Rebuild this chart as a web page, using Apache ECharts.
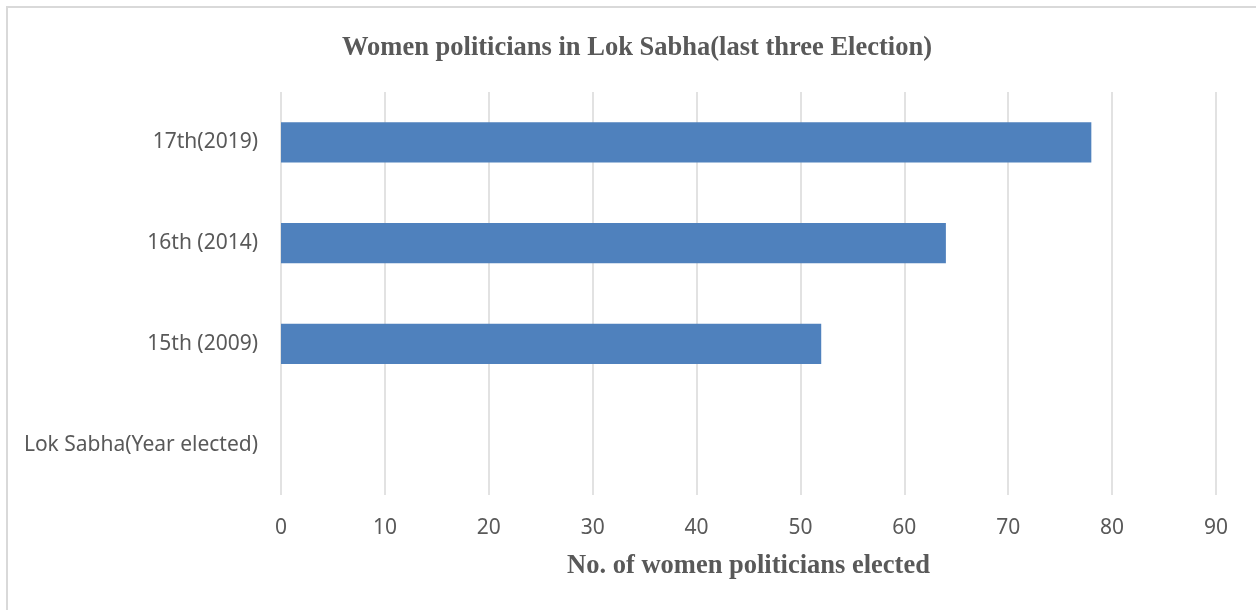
<!DOCTYPE html>
<html>
<head>
<meta charset="utf-8">
<script src="https://cdn.jsdelivr.net/npm/echarts@6/dist/echarts.min.js"></script>
<style>
  html, body { margin: 0; padding: 0; background: #fff; }
  #main { width: 1256px; height: 610px; }
</style>
</head>
<body>
<div id="main"></div>
<script>
const categories = ["Lok Sabha(Year elected)", "15th (2009)", "16th (2014)", "17th(2019)"];
const womenElected = [null, 52, 64, 78];
const xTicks = { min: 0, max: 90, interval: 10 };

const chart = echarts.init(document.getElementById("main"));

const option = {
  animation: false,
  backgroundColor: "#fff",
  title: {
    text: "Women politicians in Lok Sabha(last three Election)",
    left: 632,
    top: 30,
    textAlign: "center",
    textStyle: {
      fontFamily: "Liberation Serif",
      fontWeight: "bold",
      fontSize: 26.5,
      color: "#595959",
    },
  },
  graphic: [
    {
      type: "rect",
      shape: { x: 7, y: 7, width: 1300, height: 700 },
      style: { fill: "none", stroke: "#d9d9d9", lineWidth: 2 },
      silent: true,
    },
  ],
  grid: {
    left: 281,
    right: 40,
    top: 92,
    bottom: 115,
  },
  xAxis: {
    type: "value",
    min: xTicks.min,
    max: xTicks.max,
    interval: xTicks.interval,
    name: "No. of women politicians elected",
    nameLocation: "middle",
    nameGap: 58,
    nameTextStyle: {
      fontFamily: "Liberation Serif",
      fontWeight: "bold",
      fontSize: 26.5,
      color: "#595959",
    },
    axisLine: { show: false },
    axisTick: { show: false },
    axisLabel: {
      margin: 23,
      fontFamily: "Noto Sans",
      fontSize: 21,
      color: "#595959",
    },
    splitLine: { lineStyle: { color: "#d9d9d9", width: 1.5 } },
  },
  yAxis: {
    type: "category",
    data: categories,
    axisLine: { show: false },
    axisTick: { show: false },
    axisLabel: {
      margin: 23,
      fontFamily: "Noto Sans",
      fontSize: 21,
      color: "#595959",
    },
  },
  series: [
    {
      type: "bar",
      data: womenElected,
      barWidth: "40%",
      itemStyle: { color: "#4f81bd" },
    },
  ],
};

chart.setOption(option);
</script>
</body>
</html>
